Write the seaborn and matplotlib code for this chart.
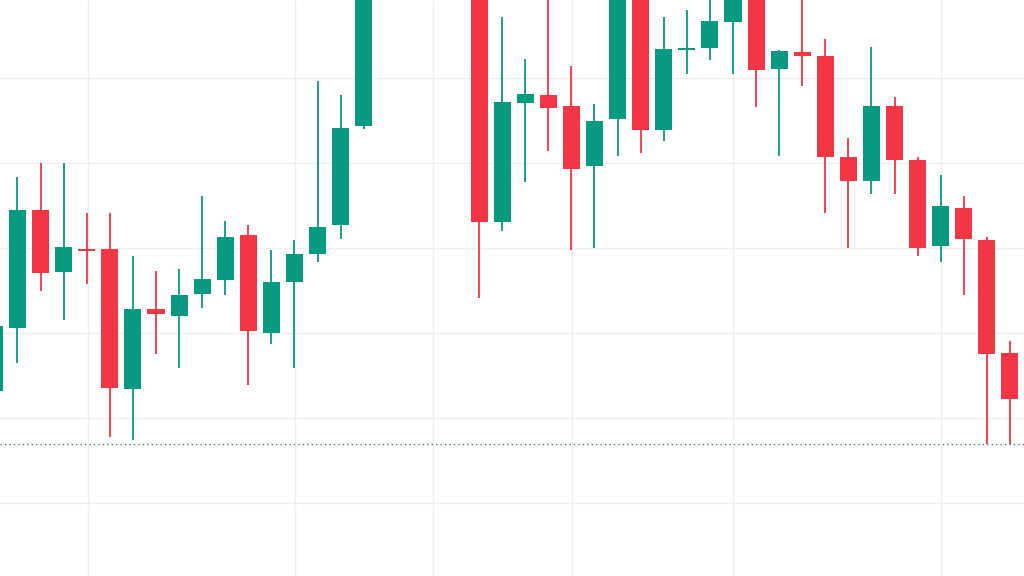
import numpy as np
import pandas as pd
import matplotlib
matplotlib.use("Agg")
import matplotlib.pyplot as plt
import seaborn as sns

# OHLC values (price units; gridlines every 10)
opens = [113.21, 120.62, 134.47, 127.21, 129.92, 129.92, 113.38, 122.82, 122.04, 124.59,
         126.27, 131.49, 120.00, 126.00, 129.29, 132.67, 144.35, 163.0, 166.0, 164.0,
         167.0, 165.0, 133.09, 147.09, 147.96, 146.74, 139.65, 145.14, 161.0, 143.88,
         153.26, 153.56, 156.59, 160.5, 151.09, 153.02, 152.62, 140.71, 137.85, 146.74,
         140.35, 130.24, 134.71, 130.94, 117.68]
highs = [122.0, 138.39, 140.03, 140.03, 134.15, 134.15, 129.06, 127.29, 127.49, 136.12,
         133.14, 132.71, 129.73, 130.94, 149.61, 148.00, 165.0, 168.0, 170.0, 169.0,
         171.0, 167.0, 157.21, 152.20, 160.0, 151.37, 146.94, 162.0, 162.5, 157.21,
         158.00, 159.6, 162.0, 161.5, 153.29, 159.8, 154.55, 142.97, 153.61, 147.80,
         140.74, 138.59, 136.12, 131.33, 119.09]
lows = [112.0, 116.51, 124.94, 121.49, 125.73, 107.80, 107.41, 117.53, 115.92, 122.91,
        124.47, 113.88, 118.67, 115.92, 128.35, 131.02, 143.96, 161.0, 162.0, 160.5,
        163.0, 124.15, 131.96, 137.76, 141.45, 129.76, 129.96, 140.79, 141.18, 142.55,
        150.47, 152.08, 150.47, 146.62, 140.79, 149.06, 134.15, 129.96, 136.35, 136.35,
        129.09, 128.32, 124.47, 106.91, 106.91]
closes = [120.86, 134.47, 127.06, 130.08, 129.68, 113.53, 122.82, 122.24, 124.47, 126.32,
          131.29, 120.24, 126.04, 129.33, 132.51, 144.12, 163.0, 166.0, 164.0, 167.0,
          165.0, 133.09, 147.14, 148.15, 146.50, 139.29, 144.98, 160.5, 143.88, 153.38,
          153.56, 156.67, 160.2, 150.94, 153.14, 152.55, 140.67, 137.85, 146.74, 140.32,
          130.04, 134.91, 131.06, 117.49, 112.20]
price_line = 106.91
grid_prices = [100, 110, 120, 130, 140, 150]
vgrid_idx = [4.05, 13.02, 19.0, 25.02, 32.0, 41.01]

df = pd.DataFrame({"open": opens, "high": highs, "low": lows, "close": closes})
df["i"] = np.arange(len(df))
df["up"] = df["close"] >= df["open"]

GREEN = "#089981"
RED = "#F23645"

sns.set_theme(style="white")
fig = plt.figure(figsize=(10.24, 5.76), dpi=100)
ax = fig.add_axes([0, 0, 1, 1])
ax.set_facecolor("white")

for p in grid_prices:
    ax.axhline(p, color="#efefef", lw=1.0, zorder=0)
for v in vgrid_idx:
    ax.axvline(v, color="#efefef", lw=1.0, zorder=0)

colors = np.where(df["up"], GREEN, RED)
ax.vlines(df["i"], df["low"], df["high"], colors=colors, lw=1.3, zorder=2)
body_bottom = np.minimum(df["open"], df["close"])
body_h = np.maximum(np.abs(df["close"] - df["open"]), 0.25)
ax.bar(df["i"], body_h, bottom=body_bottom, width=0.74, color=colors,
       edgecolor="none", zorder=3)

ax.axhline(price_line, color="#3e7f7c", lw=1.0, ls=(0, (1, 2.2)), zorder=4)

ax.set_xlim(0.242, 44.61)
ax.set_ylim(91.41, 159.18)
ax.set_xticks([])
ax.set_yticks([])
for s in ax.spines.values():
    s.set_visible(False)

fig.savefig("out.png", dpi=100)
